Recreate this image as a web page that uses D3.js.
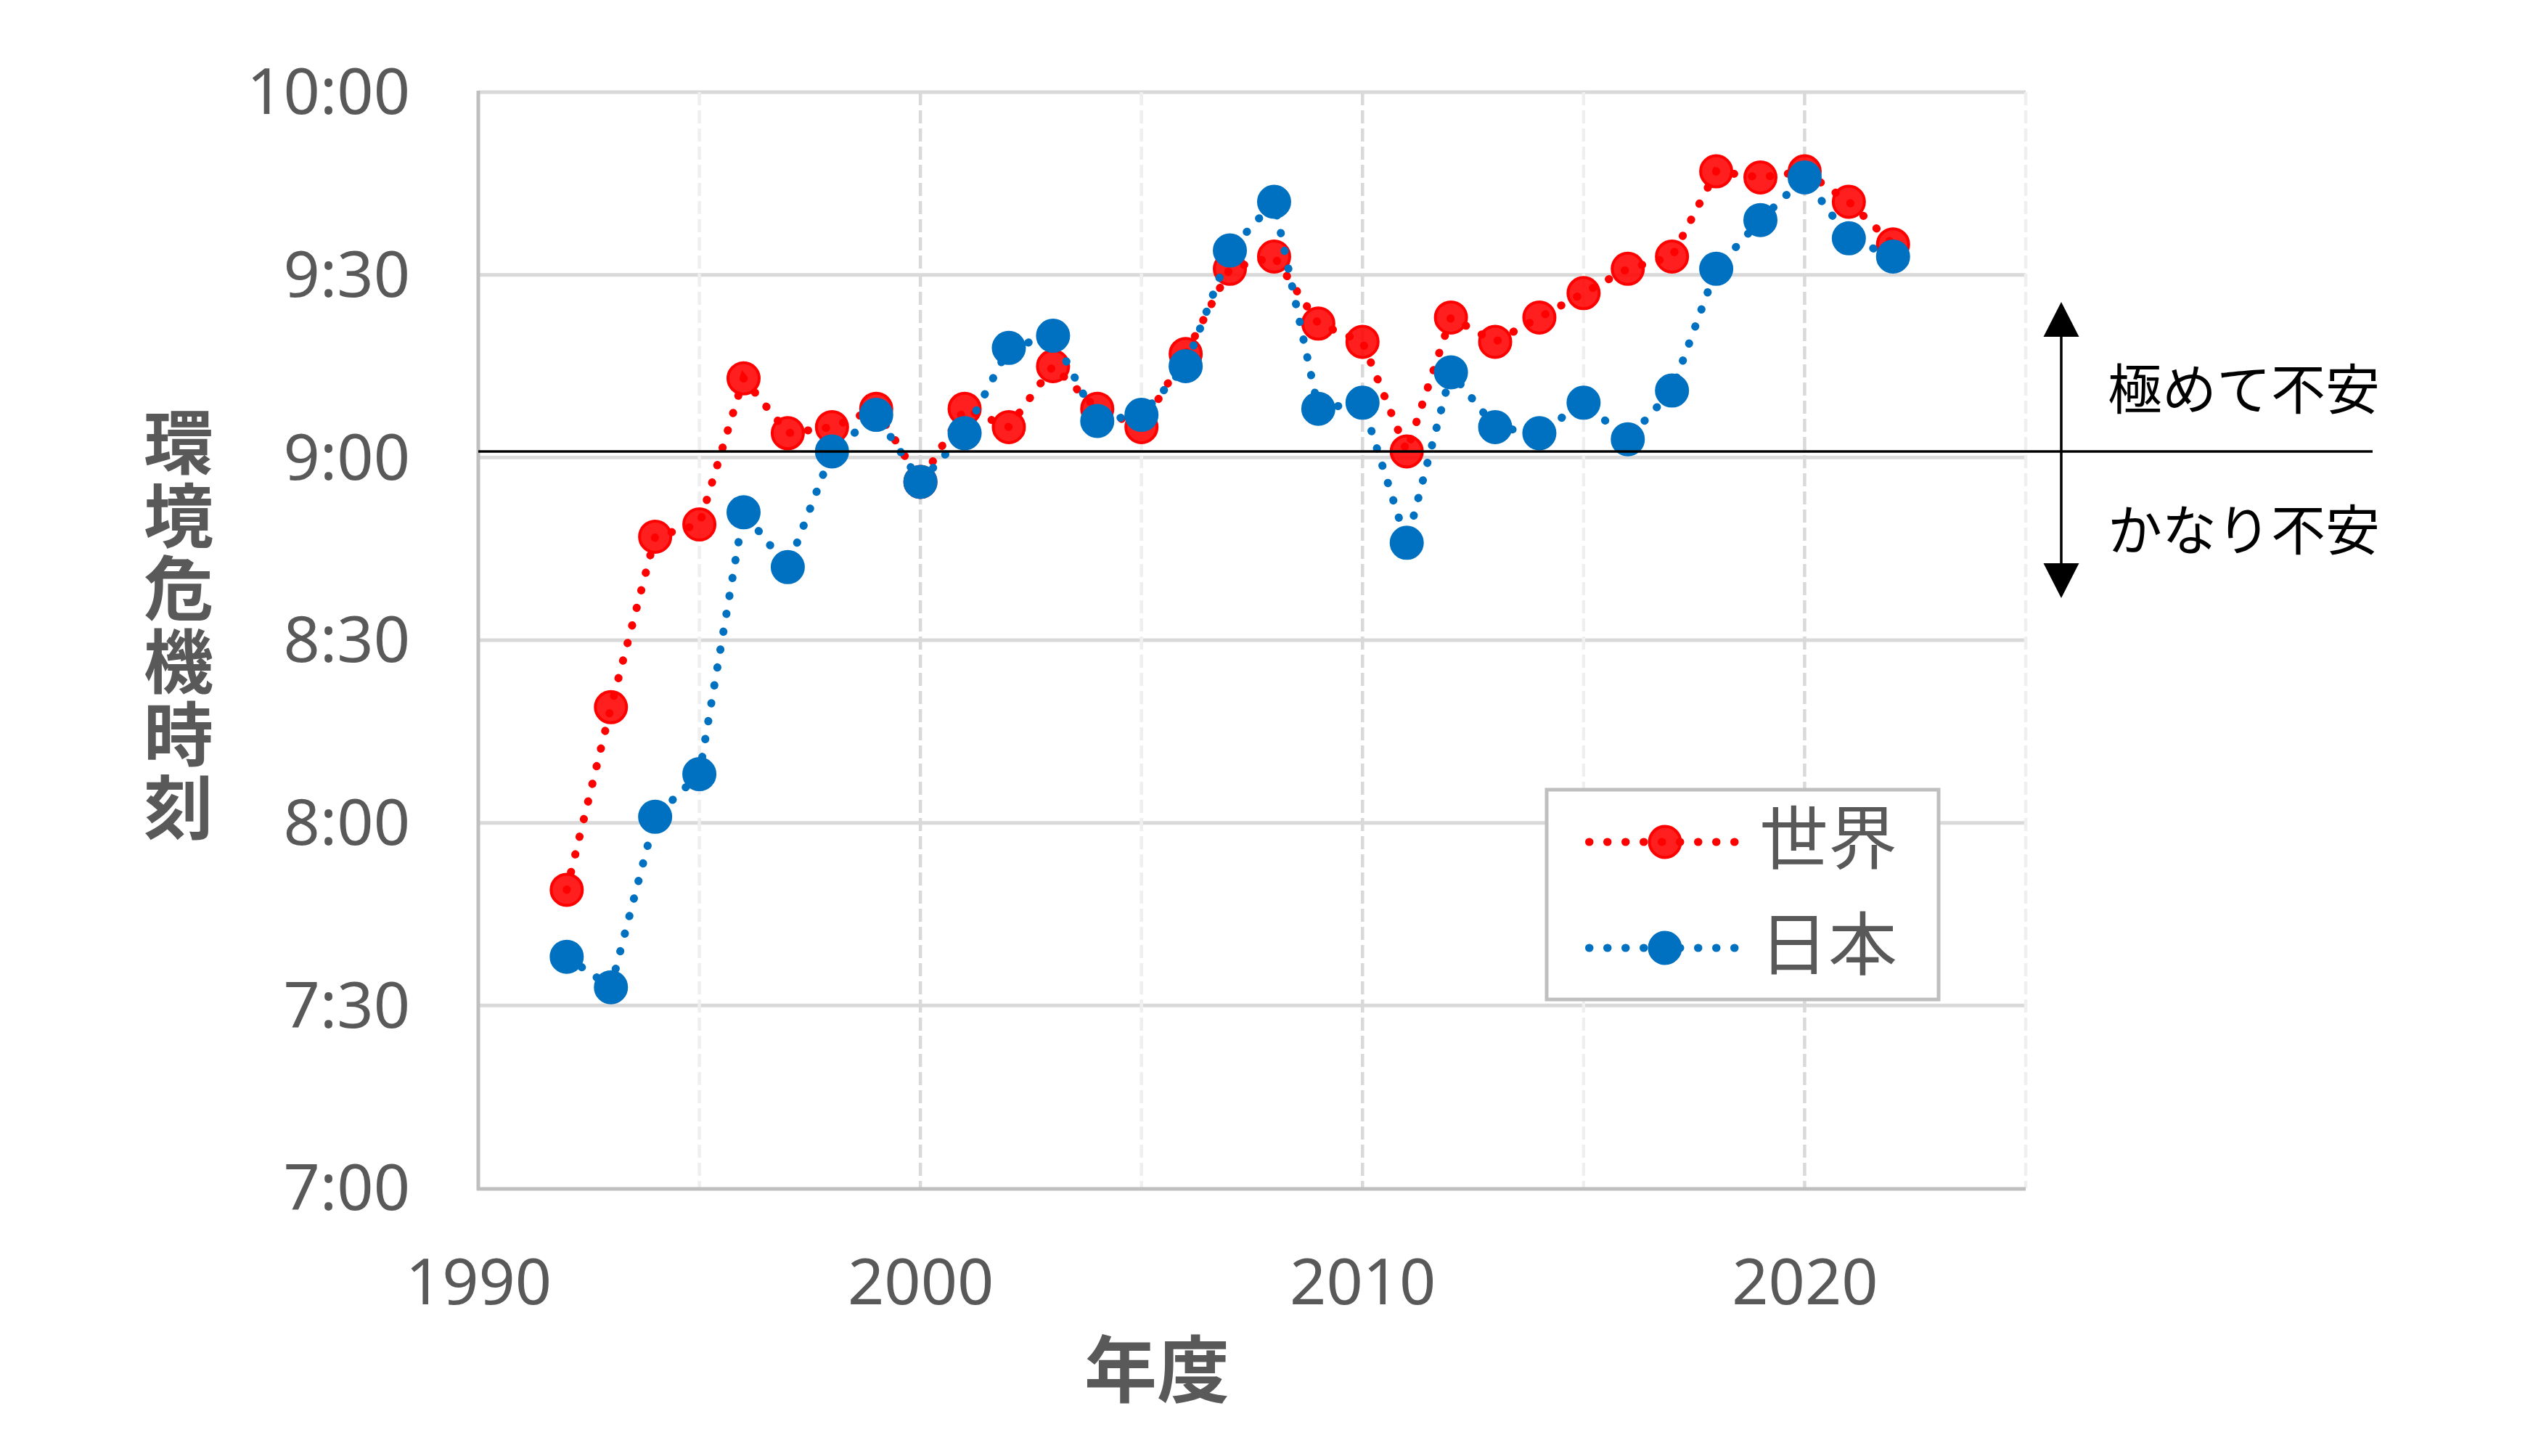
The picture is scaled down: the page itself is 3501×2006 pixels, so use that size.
<!DOCTYPE html>
<html>
<head>
<meta charset="utf-8">
<script src="https://cdn.jsdelivr.net/npm/d3@7"></script>
<style>
  html, body { margin: 0; padding: 0; background: #ffffff; }
  svg { display: block; }
</style>
</head>
<body>
<svg id="chart" width="3501" height="2006"></svg>
<script>
// ---------------- data ----------------
const years = [1992, 1993, 1994, 1995, 1996, 1997, 1998, 1999, 2000, 2001,
               2002, 2003, 2004, 2005, 2006, 2007, 2008, 2009, 2010, 2011,
               2012, 2013, 2014, 2015, 2016, 2017, 2018, 2019, 2020, 2021, 2022];
const worldTimes = ["7:49", "8:19", "8:47", "8:49", "9:13", "9:04", "9:05", "9:08", "8:56", "9:08",
                    "9:05", "9:15", "9:08", "9:05", "9:17", "9:31", "9:33", "9:22", "9:19", "9:01",
                    "9:23", "9:19", "9:23", "9:27", "9:31", "9:33", "9:47", "9:46", "9:47", "9:42", "9:35"];
const japanTimes = ["7:38", "7:33", "8:01", "8:08", "8:51", "8:42", "9:01", "9:07", "8:56", "9:04",
                    "9:18", "9:20", "9:06", "9:07", "9:15", "9:34", "9:42", "9:08", "9:09", "8:46",
                    "9:14", "9:05", "9:04", "9:09", "9:03", "9:11", "9:31", "9:39", "9:46", "9:36", "9:33"];
const seriesNames = ["世界", "日本"];
const yTickLabels = ["7:00", "7:30", "8:00", "8:30", "9:00", "9:30", "10:00"];
const xTickLabels = ["1990", "2000", "2010", "2020"];
const xGridYears = ["1995", "2000", "2005", "2010", "2015", "2020", "2025"];
const xDomain = ["1990", "2025"];
const thresholdTime = "9:01";
const zoneLabels = ["極めて不安", "かなり不安"];
const yTitle = "環境危機時刻";
const xTitle = "年度";

// ---------------- helpers ----------------
const toMin = t => { const [h, m] = t.split(":").map(Number); return h * 60 + m; };

const svg = d3.select("#chart");
const L = 659, R = 2791, T = 127, B = 1637;

const x = d3.scaleLinear().domain(xDomain.map(Number)).range([L, R]);
const y = d3.scaleLinear()
  .domain([toMin(yTickLabels[0]), toMin(yTickLabels[yTickLabels.length - 1])])
  .range([B, T]);

const textGray = "#595959";
const numFont = "'Noto Sans', 'Open Sans', sans-serif";
const cjkFont = "'Noto Sans CJK JP', 'Noto Sans', sans-serif";

// ---------------- grid ----------------
const gGrid = svg.append("g");
gGrid.selectAll("line.h").data(yTickLabels.slice(1).map(toMin)).join("line")
  .attr("class", "h")
  .attr("x1", L).attr("x2", R)
  .attr("y1", d => y(d)).attr("y2", d => y(d))
  .attr("stroke", "#d9d9d9").attr("stroke-width", 5);

gGrid.selectAll("line.v").data(xGridYears.map(Number)).join("line")
  .attr("class", "v")
  .attr("x1", d => x(d)).attr("x2", d => x(d))
  .attr("y1", T).attr("y2", B)
  .attr("stroke", d => (d % 10 === 0 ? "#d9d9d9" : "#efefef"))
  .attr("stroke-width", 4.5)
  .attr("stroke-dasharray", "18 7");

// ---------------- axes ----------------
svg.append("line")
  .attr("x1", L).attr("x2", L).attr("y1", T - 2).attr("y2", B + 3)
  .attr("stroke", "#bfbfbf").attr("stroke-width", 5);
svg.append("line")
  .attr("x1", L - 2).attr("x2", R).attr("y1", B + 1).attr("y2", B + 1)
  .attr("stroke", "#bfbfbf").attr("stroke-width", 5);

const yAxis = d3.axisLeft(y)
  .tickValues(yTickLabels.map(toMin))
  .tickFormat((d, i) => yTickLabels[i])
  .tickSize(0).tickPadding(L - 565);
const gy = svg.append("g").attr("transform", `translate(${L},0)`).call(yAxis);
gy.select(".domain").remove();
gy.selectAll("text")
  .attr("font-family", numFont).attr("font-size", 88)
  .attr("fill", textGray).attr("dy", "0.34em");

const xAxis = d3.axisBottom(x)
  .tickValues(xTickLabels.map(Number))
  .tickFormat((d, i) => xTickLabels[i])
  .tickSize(0).tickPadding(0);
const gx = svg.append("g").attr("transform", `translate(0,${B})`).call(xAxis);
gx.select(".domain").remove();
gx.selectAll("text")
  .attr("font-family", numFont).attr("font-size", 88)
  .attr("fill", textGray).attr("y", 160).attr("dy", 0);

// axis titles
svg.append("text")
  .attr("x", 1594).attr("y", 1880)
  .attr("text-anchor", "middle").attr("dominant-baseline", "central")
  .attr("font-family", cjkFont).attr("font-weight", 700).attr("font-size", 100)
  .attr("fill", textGray).text(xTitle);

svg.append("text")
  .attr("x", 246).attr("y", 561)
  .attr("text-anchor", "start")
  .attr("dominant-baseline", "central")
  .style("writing-mode", "vertical-rl")
  .style("text-orientation", "upright")
  .style("letter-spacing", "4.5px")
  .attr("font-family", cjkFont).attr("font-weight", 700).attr("font-size", 96)
  .attr("fill", textGray).text(yTitle);

// ---------------- series ----------------
const line = d3.line().x(d => x(d.year)).y(d => y(d.v));
const series = [
  { name: seriesNames[0], color: "#ff0000", fillOpacity: 0.88,
    data: years.map((yr, i) => ({ year: yr, v: toMin(worldTimes[i]) })) },
  { name: seriesNames[1], color: "#0070c0", fillOpacity: 1,
    data: years.map((yr, i) => ({ year: yr, v: toMin(japanTimes[i]) })) }
];

series.forEach(s => {
  const g = svg.append("g");
  g.append("path")
    .attr("d", line(s.data))
    .attr("fill", "none").attr("stroke", s.color)
    .attr("stroke-width", 11).attr("stroke-linecap", "round")
    .attr("stroke-dasharray", "0.5 24.5");
  g.selectAll("circle").data(s.data).join("circle")
    .attr("cx", d => x(d.year)).attr("cy", d => y(d.v)).attr("r", 21.5)
    .attr("fill", s.color).attr("fill-opacity", s.fillOpacity)
    .attr("stroke", s.color).attr("stroke-width", 4);
});

// ---------------- threshold line & annotation ----------------
const ty = y(toMin(thresholdTime));
svg.append("line")
  .attr("x1", L).attr("x2", 3269).attr("y1", ty).attr("y2", ty)
  .attr("stroke", "#000").attr("stroke-width", 3.5);

const ax = 2840;
svg.append("line")
  .attr("x1", ax).attr("x2", ax).attr("y1", ty - 160).attr("y2", ty + 156)
  .attr("stroke", "#000").attr("stroke-width", 3.5);
svg.append("path")
  .attr("d", `M${ax},${ty - 206} L${ax - 24.5},${ty - 158} L${ax + 24.5},${ty - 158} Z`)
  .attr("fill", "#000");
svg.append("path")
  .attr("d", `M${ax},${ty + 202} L${ax - 24.5},${ty + 154} L${ax + 24.5},${ty + 154} Z`)
  .attr("fill", "#000");

svg.selectAll("text.zone").data(zoneLabels).join("text")
  .attr("class", "zone")
  .attr("x", 2904).attr("y", (d, i) => i === 0 ? ty - 90 : ty + 104)
  .attr("dominant-baseline", "central")
  .attr("font-family", cjkFont).attr("font-size", 75)
  .attr("fill", "#000").text(d => d);

// ---------------- legend ----------------
const lg = svg.append("g");
lg.append("rect")
  .attr("x", 2131).attr("y", 1088).attr("width", 540).attr("height", 289)
  .attr("fill", "#fff").attr("stroke", "#bfbfbf").attr("stroke-width", 5);
const legendY = [1160, 1306];
series.forEach((s, i) => {
  lg.append("line")
    .attr("x1", 2189.5).attr("x2", 2392).attr("y1", legendY[i]).attr("y2", legendY[i])
    .attr("stroke", s.color).attr("stroke-width", 11)
    .attr("stroke-linecap", "round").attr("stroke-dasharray", "0.5 24.5");
  lg.append("circle")
    .attr("cx", 2294).attr("cy", legendY[i]).attr("r", 21.5)
    .attr("fill", s.color).attr("fill-opacity", s.fillOpacity)
    .attr("stroke", s.color).attr("stroke-width", 4);
  lg.append("text")
    .attr("x", 2424).attr("y", legendY[i] - 12)
    .attr("dominant-baseline", "central")
    .attr("font-family", cjkFont).attr("font-size", 95)
    .attr("fill", textGray).text(s.name);
});
</script>
</body>
</html>
